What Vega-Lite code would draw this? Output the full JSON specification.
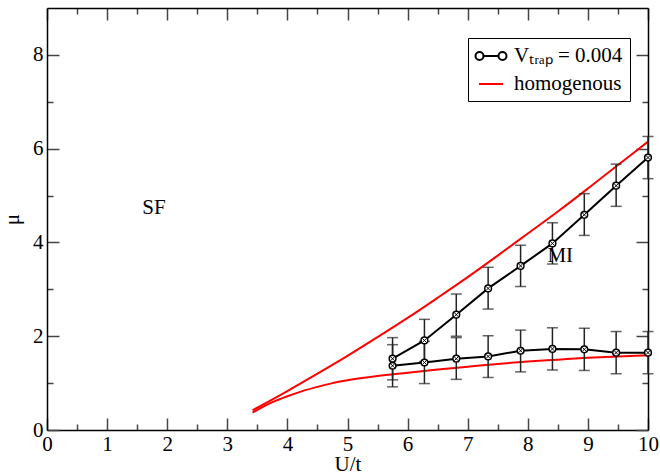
{
  "$schema": "https://vega.github.io/schema/vega-lite/v6.json",
  "width": 601,
  "height": 422,
  "autosize": {"type": "none"},
  "padding": {"left": 47, "top": 8, "right": 12, "bottom": 44},
  "config": {
    "view": {"stroke": null},
    "text": {"font": "Liberation Serif"},
    "axis": {
      "grid": false,
      "domainColor": "black",
      "domainWidth": 1.5,
      "tickColor": "#444",
      "tickWidth": 1.5,
      "labelFont": "Liberation Serif",
      "labelFontSize": 21,
      "labelColor": "black",
      "titleFont": "Liberation Serif",
      "titleFontSize": 21,
      "titleFontWeight": "normal",
      "titleColor": "black",
      "labelFlush": false,
      "labelOverlap": false
    },
    "legend": {"labelFont": "Liberation Serif"}
  },
  "datasets": {
    "sim": [
      {"s": "Vₜᵣₐₚ = 0.004", "b": "u", "U": 5.75, "mu": 1.52, "lo": 1.07, "hi": 1.97},
      {"s": "Vₜᵣₐₚ = 0.004", "b": "u", "U": 6.28, "mu": 1.91, "lo": 1.46, "hi": 2.36},
      {"s": "Vₜᵣₐₚ = 0.004", "b": "u", "U": 6.81, "mu": 2.46, "lo": 2.0, "hi": 2.9},
      {"s": "Vₜᵣₐₚ = 0.004", "b": "u", "U": 7.34, "mu": 3.02, "lo": 2.58, "hi": 3.47},
      {"s": "Vₜᵣₐₚ = 0.004", "b": "u", "U": 7.88, "mu": 3.5, "lo": 3.06, "hi": 3.94},
      {"s": "Vₜᵣₐₚ = 0.004", "b": "u", "U": 8.41, "mu": 3.98, "lo": 3.54, "hi": 4.42},
      {"s": "Vₜᵣₐₚ = 0.004", "b": "u", "U": 8.94, "mu": 4.59, "lo": 4.15, "hi": 5.04},
      {"s": "Vₜᵣₐₚ = 0.004", "b": "u", "U": 9.47, "mu": 5.21, "lo": 4.77, "hi": 5.67},
      {"s": "Vₜᵣₐₚ = 0.004", "b": "u", "U": 10.0, "mu": 5.81, "lo": 5.36, "hi": 6.26},
      {"s": "Vₜᵣₐₚ = 0.004", "b": "l", "U": 5.75, "mu": 1.37, "lo": 0.92, "hi": 1.82},
      {"s": "Vₜᵣₐₚ = 0.004", "b": "l", "U": 6.28, "mu": 1.44, "lo": 0.99, "hi": 1.89},
      {"s": "Vₜᵣₐₚ = 0.004", "b": "l", "U": 6.81, "mu": 1.52, "lo": 1.08, "hi": 1.97},
      {"s": "Vₜᵣₐₚ = 0.004", "b": "l", "U": 7.34, "mu": 1.57, "lo": 1.12, "hi": 2.01},
      {"s": "Vₜᵣₐₚ = 0.004", "b": "l", "U": 7.88, "mu": 1.69, "lo": 1.24, "hi": 2.13},
      {"s": "Vₜᵣₐₚ = 0.004", "b": "l", "U": 8.41, "mu": 1.73, "lo": 1.28, "hi": 2.18},
      {"s": "Vₜᵣₐₚ = 0.004", "b": "l", "U": 8.94, "mu": 1.72, "lo": 1.27, "hi": 2.17},
      {"s": "Vₜᵣₐₚ = 0.004", "b": "l", "U": 9.47, "mu": 1.65, "lo": 1.2, "hi": 2.1},
      {"s": "Vₜᵣₐₚ = 0.004", "b": "l", "U": 10.0, "mu": 1.65, "lo": 1.2, "hi": 2.1}
    ],
    "hom": [
      {"s": "homogenous", "b": "u", "U": 3.42, "mu": 0.42},
      {"s": "homogenous", "b": "u", "U": 4.0, "mu": 0.83},
      {"s": "homogenous", "b": "u", "U": 4.5, "mu": 1.2},
      {"s": "homogenous", "b": "u", "U": 5.0, "mu": 1.58},
      {"s": "homogenous", "b": "u", "U": 5.5, "mu": 1.98},
      {"s": "homogenous", "b": "u", "U": 6.0, "mu": 2.39},
      {"s": "homogenous", "b": "u", "U": 6.5, "mu": 2.82},
      {"s": "homogenous", "b": "u", "U": 7.0, "mu": 3.26},
      {"s": "homogenous", "b": "u", "U": 7.5, "mu": 3.72},
      {"s": "homogenous", "b": "u", "U": 8.0, "mu": 4.19},
      {"s": "homogenous", "b": "u", "U": 8.5, "mu": 4.66},
      {"s": "homogenous", "b": "u", "U": 9.0, "mu": 5.15},
      {"s": "homogenous", "b": "u", "U": 9.5, "mu": 5.65},
      {"s": "homogenous", "b": "u", "U": 10.0, "mu": 6.15},
      {"s": "homogenous", "b": "l", "U": 3.42, "mu": 0.37},
      {"s": "homogenous", "b": "l", "U": 3.6, "mu": 0.5},
      {"s": "homogenous", "b": "l", "U": 3.8, "mu": 0.62},
      {"s": "homogenous", "b": "l", "U": 4.0, "mu": 0.72},
      {"s": "homogenous", "b": "l", "U": 4.25, "mu": 0.83},
      {"s": "homogenous", "b": "l", "U": 4.5, "mu": 0.92},
      {"s": "homogenous", "b": "l", "U": 4.75, "mu": 1.0},
      {"s": "homogenous", "b": "l", "U": 5.0, "mu": 1.06},
      {"s": "homogenous", "b": "l", "U": 5.5, "mu": 1.15},
      {"s": "homogenous", "b": "l", "U": 6.0, "mu": 1.22},
      {"s": "homogenous", "b": "l", "U": 6.5, "mu": 1.29},
      {"s": "homogenous", "b": "l", "U": 7.0, "mu": 1.35},
      {"s": "homogenous", "b": "l", "U": 7.5, "mu": 1.41},
      {"s": "homogenous", "b": "l", "U": 8.0, "mu": 1.46},
      {"s": "homogenous", "b": "l", "U": 8.5, "mu": 1.5},
      {"s": "homogenous", "b": "l", "U": 9.0, "mu": 1.54},
      {"s": "homogenous", "b": "l", "U": 9.5, "mu": 1.57},
      {"s": "homogenous", "b": "l", "U": 10.0, "mu": 1.59}
    ],
    "labels": [
      {"U": 1.78, "mu": 4.73, "t": "SF"},
      {"U": 8.54, "mu": 3.72, "t": "MI"}
    ]
  },
  "resolve": {"axis": {"x": "independent", "y": "independent"}},
  "layer": [
    {
      "data": {"name": "hom"},
      "mark": {"type": "line", "strokeWidth": 2, "interpolate": "monotone"},
      "encoding": {
        "x": {"field": "U", "type": "quantitative", "scale": {"domain": [0, 10], "nice": false},
          "axis": {"orient": "bottom", "title": "U/t",
            "values": [0, 0.5, 1, 1.5, 2, 2.5, 3, 3.5, 4, 4.5, 5, 5.5, 6, 6.5, 7, 7.5, 8, 8.5, 9, 9.5, 10],
            "labelExpr": "datum.value % 1 === 0 ? format(datum.value, 'd') : ''",
            "labelFont": "Liberation Serif", "titleFont": "Liberation Serif",
            "tickSize": {"condition": {"test": "datum.value % 1 === 0", "value": -12}, "value": -6},
            "labelPadding": 15, "titleY": 40, "titleBaseline": "alphabetic"}},
        "y": {"field": "mu", "type": "quantitative", "scale": {"domain": [0, 9], "nice": false},
          "axis": {"orient": "left", "title": "μ",
            "values": [0, 1, 2, 3, 4, 5, 6, 7, 8],
            "labelExpr": "datum.value % 2 === 0 ? format(datum.value, 'd') : ''",
            "labelFont": "Liberation Serif", "titleFont": "Liberation Serif",
            "tickSize": {"condition": {"test": "datum.value % 2 === 0", "value": -12}, "value": -6},
            "labelPadding": 16, "titlePadding": 10}},
        "color": {"field": "s", "type": "nominal",
          "scale": {"domain": ["Vₜᵣₐₚ = 0.004", "homogenous"], "range": ["black", "red"]},
          "legend": {"orient": "none", "legendX": 421, "legendY": 30, "title": null,
            "strokeColor": "black", "fillColor": "white", "padding": 7,
            "labelFont": "Liberation Serif", "labelFontSize": 21, "labelColor": "black",
            "symbolOffset": 5, "labelOffset": 12, "rowPadding": 7, "symbolSize": 400, "symbolStrokeWidth": 2,
            "symbolType": "stroke",
            "encode": {"symbols": {"update": {
              "shape": {"signal": "datum.value === 'homogenous' ? 'M-1.2,0L1.2,0' : 'M-0.75,0L0.75,0M-1.55,0A0.4,0.4 0 1,0 -0.75,0A0.4,0.4 0 1,0 -1.55,0M0.75,0A0.4,0.4 0 1,0 1.55,0A0.4,0.4 0 1,0 0.75,0'"},
              "fill": {"signal": "datum.value === 'homogenous' ? 'transparent' : 'white'"},
              "stroke": {"signal": "datum.value === 'homogenous' ? 'red' : 'black'"},
              "strokeWidth": {"value": 2}
            }}}}},
        "detail": {"field": "b"}
      }
    },
    {
      "data": {"name": "hom"},
      "mark": {"type": "point", "opacity": 0},
      "encoding": {
        "x": {"field": "U", "type": "quantitative",
          "axis": {"orient": "top", "title": null, "labels": false,
            "values": [0, 0.5, 1, 1.5, 2, 2.5, 3, 3.5, 4, 4.5, 5, 5.5, 6, 6.5, 7, 7.5, 8, 8.5, 9, 9.5, 10],
            "tickSize": {"condition": {"test": "datum.value % 1 === 0", "value": -12}, "value": -6}}},
        "y": {"field": "mu", "type": "quantitative",
          "axis": {"orient": "right", "title": null, "labels": false,
            "values": [0, 1, 2, 3, 4, 5, 6, 7, 8],
            "tickSize": {"condition": {"test": "datum.value % 2 === 0", "value": -12}, "value": -6}}}
      }
    },
    {
      "data": {"name": "sim"},
      "mark": {"type": "rule", "color": "#222", "strokeWidth": 1.5},
      "encoding": {
        "x": {"field": "U", "type": "quantitative", "axis": null},
        "y": {"field": "lo", "type": "quantitative", "axis": null},
        "y2": {"field": "hi"}
      }
    },
    {
      "data": {"name": "sim"},
      "mark": {"type": "tick", "color": "#222", "orient": "horizontal", "size": 11, "thickness": 1.5},
      "encoding": {
        "x": {"field": "U", "type": "quantitative", "axis": null},
        "y": {"field": "lo", "type": "quantitative", "axis": null}
      }
    },
    {
      "data": {"name": "sim"},
      "mark": {"type": "tick", "color": "#222", "orient": "horizontal", "size": 11, "thickness": 1.5},
      "encoding": {
        "x": {"field": "U", "type": "quantitative", "axis": null},
        "y": {"field": "hi", "type": "quantitative", "axis": null}
      }
    },
    {
      "data": {"name": "sim"},
      "mark": {"type": "line", "strokeWidth": 2},
      "encoding": {
        "x": {"field": "U", "type": "quantitative", "axis": null},
        "y": {"field": "mu", "type": "quantitative", "axis": null},
        "color": {"field": "s", "type": "nominal"},
        "detail": {"field": "b"}
      }
    },
    {
      "data": {"name": "sim"},
      "mark": {"type": "point", "shape": "circle", "filled": true, "fill": "white", "stroke": "black", "strokeWidth": 1.5, "size": 45, "opacity": 1},
      "encoding": {
        "x": {"field": "U", "type": "quantitative", "axis": null},
        "y": {"field": "mu", "type": "quantitative", "axis": null}
      }
    },
    {
      "data": {"name": "sim"},
      "mark": {"type": "point", "shape": "M-0.6,-0.6L0.6,0.6M-0.6,0.6L0.6,-0.6", "filled": false, "stroke": "black", "strokeWidth": 1, "size": 45, "opacity": 1},
      "encoding": {
        "x": {"field": "U", "type": "quantitative", "axis": null},
        "y": {"field": "mu", "type": "quantitative", "axis": null}
      }
    },
    {
      "data": {"name": "labels"},
      "mark": {"type": "text", "font": "Liberation Serif", "fontSize": 21, "color": "black", "align": "center", "baseline": "middle"},
      "encoding": {
        "x": {"field": "U", "type": "quantitative", "axis": null},
        "y": {"field": "mu", "type": "quantitative", "axis": null},
        "text": {"field": "t"}
      }
    }
  ]
}
